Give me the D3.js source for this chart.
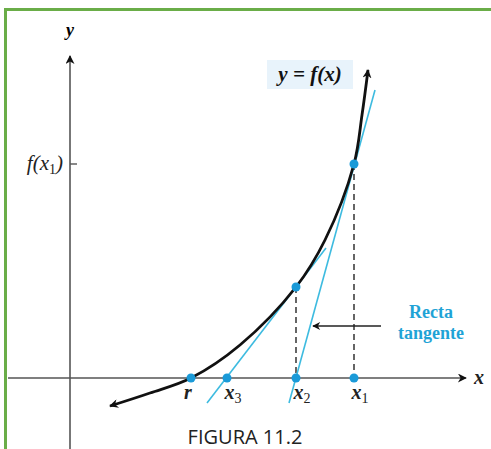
<!DOCTYPE html>
<html>
<head>
<meta charset="utf-8">
<script src="https://cdn.jsdelivr.net/npm/d3@7/dist/d3.min.js"></script>
<style>
  body { margin: 0; background: #fff; }
  svg { display: block; }
  .serif { font-family: "Liberation Serif", "DejaVu Serif", serif; }
</style>
</head>
<body>
<div id="chart"></div>
<script>
  // Newton's method figure: curve y = f(x), two tangent lines, roots on the x axis
  const width = 491, height = 449;

  // points along y = f(x) (x, y in axis units)
  const curveX = [2.0, 4.0, 6.05, 8.5, 11.3, 12.75, 14.2, 14.6, 14.9],
    curveY = [-1.4, -0.75, 0, 1.65, 4.55, 6.9, 10.7, 13.15, 15.4];

  // tangent lines (end points)
  const tangentX1 = [10.95, 15.25], tangentY1 = [-1.25, 14.4],
    tangentX2 = [6.85, 12.8], tangentY2 = [-1.25, 6.5];

  // marked points on the x axis and on the curve
  const axisNames = ["r", "x3", "x2", "x1"],
    axisValues = [6.05, 7.85, 11.3, 14.2],
    curvePtX = [11.3, 14.2],
    curvePtY = [4.55, 10.7];

  const fx1 = 10.7; // f(x1) tick

  const x = d3.scaleLinear().domain([0, 20]).range([70, 470]),
    y = d3.scaleLinear().domain([0, 15]).range([378, 78]);

  const svg = d3.select("#chart").append("svg")
      .attr("width", width)
      .attr("height", height);

  const defs = svg.append("defs");
  const marker = (id, w, h) => defs.append("marker")
      .attr("id", id)
      .attr("viewBox", "0 0 10 10")
      .attr("refX", 9).attr("refY", 5)
      .attr("markerUnits", "userSpaceOnUse")
      .attr("markerWidth", w).attr("markerHeight", h)
      .attr("orient", "auto-start-reverse")
    .append("path")
      .attr("d", "M0,0 L10,5 L0,10 L3,5 Z")
      .attr("fill", "#111");
  marker("arr", 13, 9);
  marker("arrS", 11, 8);

  //green frame (top and left only)
  svg.append("line").attr("x1", 4).attr("x2", width).attr("y1", 9.5).attr("y2", 9.5)
      .attr("stroke", "#6aad48").attr("stroke-width", 3);
  svg.append("line").attr("x1", 5.5).attr("x2", 5.5).attr("y1", 8).attr("y2", height)
      .attr("stroke", "#6aad48").attr("stroke-width", 3);

  //axes
  svg.append("line")
      .attr("x1", 8).attr("x2", 466)
      .attr("y1", y(0)).attr("y2", y(0))
      .attr("stroke", "#555").attr("stroke-width", 1.6)
      .attr("marker-end", "url(#arr)");
  svg.append("line")
      .attr("x1", x(0)).attr("x2", x(0))
      .attr("y1", height).attr("y2", 56)
      .attr("stroke", "#555").attr("stroke-width", 1.6)
      .attr("marker-end", "url(#arr)");

  svg.append("text").attr("class", "serif")
      .attr("x", 70).attr("y", 36)
      .attr("text-anchor", "middle")
      .style("font-size", "18px").style("font-style", "italic").style("font-weight", "bold")
      .text("y");
  svg.append("text").attr("class", "serif")
      .attr("x", 479).attr("y", 384)
      .attr("text-anchor", "middle")
      .style("font-size", "20px").style("font-style", "italic").style("font-weight", "bold")
      .attr("fill", "#222")
      .text("x");

  //f(x1) tick and label
  svg.append("line")
      .attr("x1", x(0)).attr("x2", x(0) + 7)
      .attr("y1", y(fx1)).attr("y2", y(fx1))
      .attr("stroke", "#555").attr("stroke-width", 1.4);
  const fl = svg.append("text").attr("class", "serif")
      .attr("x", 63).attr("y", y(fx1) + 6)
      .attr("text-anchor", "end")
      .style("font-size", "21px").style("font-style", "italic").attr("fill", "#222");
  fl.append("tspan").text("f(x");
  fl.append("tspan").attr("dy", 4).style("font-size", "14px").style("font-style", "normal").text("1");
  fl.append("tspan").attr("dy", -4).text(")");

  //dashed verticals
  svg.selectAll(".drop")
    .data(curvePtX)
    .enter().append("line")
      .attr("class", "drop")
      .attr("x1", (d) => x(d)).attr("x2", (d) => x(d))
      .attr("y1", (d, i) => y(curvePtY[i])).attr("y2", y(0))
      .attr("stroke", "#333").attr("stroke-width", 1.5)
      .attr("stroke-dasharray", "6,4");

  //tangent lines
  const tangents = [[tangentX1, tangentY1], [tangentX2, tangentY2]];
  svg.selectAll(".tangent")
    .data(tangents)
    .enter().append("line")
      .attr("class", "tangent")
      .attr("x1", (d) => x(d[0][0])).attr("y1", (d) => y(d[1][0]))
      .attr("x2", (d) => x(d[0][1])).attr("y2", (d) => y(d[1][1]))
      .attr("stroke", "#3dbbe0").attr("stroke-width", 1.6);

  //curve
  const curveData = curveX.map((d, i) => [d, curveY[i]]);
  const line = d3.line()
      .x((d) => x(d[0]))
      .y((d) => y(d[1]))
      .curve(d3.curveCatmullRom.alpha(0.5));
  svg.append("path")
      .datum(curveData)
      .attr("d", line)
      .attr("fill", "none")
      .attr("stroke", "#111")
      .attr("stroke-width", 2.8)
      .attr("marker-start", "url(#arr)")
      .attr("marker-end", "url(#arr)");

  //points
  svg.selectAll(".axisPt")
    .data(axisValues)
    .enter().append("circle")
      .attr("class", "axisPt")
      .attr("cx", (d) => x(d)).attr("cy", y(0))
      .attr("r", 4.5)
      .attr("fill", "#1a9ad8");
  svg.selectAll(".curvePt")
    .data(curvePtX)
    .enter().append("circle")
      .attr("class", "curvePt")
      .attr("cx", (d) => x(d)).attr("cy", (d, i) => y(curvePtY[i]))
      .attr("r", 4.5)
      .attr("fill", "#1a9ad8");

  //axis point labels
  const labels = svg.selectAll(".ptLabel")
    .data(axisNames)
    .enter().append("text")
      .attr("class", "ptLabel serif")
      .attr("x", (d, i) => x(axisValues[i]) + (i === 0 ? -3 : 6))
      .attr("y", 399)
      .attr("text-anchor", "middle")
      .attr("fill", "#222")
      .style("font-size", "20px").style("font-style", "italic").style("font-weight", "bold");
  labels.append("tspan").text((d) => d[0]);
  labels.append("tspan").attr("dy", 4).style("font-size", "14px").style("font-style", "normal").style("font-weight", "normal")
      .text((d) => d.slice(1));

  //y = f(x) label
  svg.append("rect")
      .attr("x", 267).attr("y", 60).attr("width", 86).attr("height", 29)
      .attr("fill", "#e8f3fb");
  svg.append("text").attr("class", "serif")
      .attr("x", 310).attr("y", 81)
      .attr("text-anchor", "middle")
      .attr("fill", "#111")
      .style("font-size", "21px").style("font-style", "italic").style("font-weight", "bold")
      .text("y = f(x)");

  //Recta tangente pointer
  svg.append("line")
      .attr("x1", 381).attr("x2", 313)
      .attr("y1", 326).attr("y2", 326)
      .attr("stroke", "#222").attr("stroke-width", 1.4)
      .attr("marker-end", "url(#arrS)");
  svg.selectAll(".note")
    .data(["Recta", "tangente"])
    .enter().append("text")
      .attr("class", "note serif")
      .attr("x", 431)
      .attr("y", (d, i) => 318 + i * 21)
      .attr("text-anchor", "middle")
      .attr("fill", "#1fa3d6")
      .style("font-size", "18px").style("font-weight", "bold")
      .text((d) => d);

  //caption
  svg.append("text")
      .attr("x", 245).attr("y", 444)
      .attr("text-anchor", "middle")
      .attr("fill", "#222")
      .style("font-family", "'Open Sans', sans-serif")
      .style("font-size", "20px")
      .text("FIGURA 11.2");
</script>
</body>
</html>
